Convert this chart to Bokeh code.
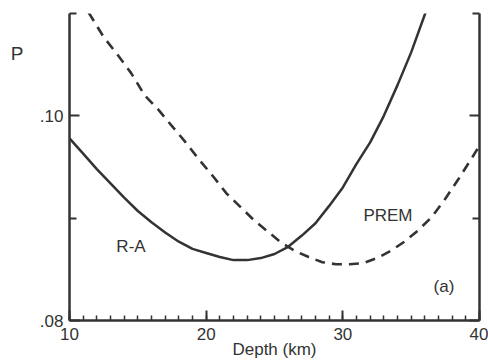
from bokeh.plotting import figure
from bokeh.models import LinearAxis, FixedTicker, Label, Range1d, CustomJSTickFormatter
from bokeh.embed import file_html
from bokeh.resources import INLINE

# ---- data ----
ra_depth = [10.0, 11.0, 12.0, 13.0, 14.0, 15.0, 16.0, 17.0, 18.0, 19.0, 20.0, 21.0,
            22.0, 23.0, 24.0, 25.0, 26.0, 27.0, 28.0, 29.0, 30.0, 31.0, 32.0, 33.0,
            34.0, 35.0, 36.0, 36.2]
ra_p = [0.0978, 0.0963, 0.0948, 0.0934, 0.0920, 0.0907, 0.0896, 0.0886, 0.0877, 0.0870,
        0.0866, 0.0862, 0.0859, 0.0859, 0.0861, 0.0865, 0.0872, 0.0883, 0.0895, 0.0912,
        0.0930, 0.0953, 0.0974, 0.1000, 0.1030, 0.1062, 0.1099, 0.1106]

prem_depth = [11.4, 12.5, 13.5, 14.5, 15.5, 16.5, 17.5, 18.5, 19.5, 20.5, 21.5, 22.5,
              23.5, 24.5, 25.5, 26.5, 27.5, 28.5, 29.5, 30.5, 31.5, 32.5, 33.5, 34.5,
              35.5, 36.5, 37.5, 38.5, 39.5, 40.0]
prem_p = [0.1101, 0.1077, 0.1060, 0.1042, 0.1020, 0.1006, 0.0990, 0.0974, 0.0957, 0.0941,
          0.0924, 0.0911, 0.0898, 0.0887, 0.0876, 0.0868, 0.0862, 0.0857, 0.0855, 0.0855,
          0.0856, 0.0861, 0.0868, 0.0877, 0.0888, 0.0901, 0.0919, 0.0939, 0.0960, 0.0971]

x_ticks = [10, 20, 30, 40]
x_tick_labels = ["10", "20", "30", "40"]
x_minor_ticks = list(range(10, 41))
y_ticks = [0.08, 0.10]
y_tick_labels = [".08", ".10"]
y_minor_ticks = [0.09, 0.11]

series_labels = ["R-A", "PREM", "(a)"]
y_title = "P"
y_title_at = 0.1061
x_title = "Depth (km)"

INK = "#333333"
FONT = "Liberation Sans"
FS = "17px"

p = figure(width=488, height=364, output_backend="svg", toolbar_location=None,
           x_range=Range1d(10, 40), y_range=Range1d(0.08, 0.11),
           min_border_left=69, min_border_right=9, min_border_top=13, min_border_bottom=44,
           background_fill_color="white", border_fill_color="white")
p.outline_line_color = None
p.grid.visible = False

# bottom axis
xa = p.xaxis[0]
xa.ticker = FixedTicker(ticks=x_ticks, minor_ticks=x_minor_ticks)
xa.major_label_overrides = dict(zip(x_ticks, x_tick_labels))
xa.axis_line_color = INK
xa.axis_line_width = 2.5
xa.major_tick_line_color = INK
xa.major_tick_line_width = 2
xa.minor_tick_line_color = INK
xa.minor_tick_line_width = 1.5
xa.major_tick_in = 10
xa.major_tick_out = 0
xa.minor_tick_in = 5
xa.minor_tick_out = 0
xa.major_label_text_font = FONT
xa.major_label_text_font_size = FS
xa.major_label_text_color = INK
xa.major_label_standoff = 7
xa.axis_label = x_title
xa.axis_label_text_font = FONT
xa.axis_label_text_font_size = FS
xa.axis_label_text_font_style = "normal"
xa.axis_label_text_color = INK
xa.axis_label_standoff = -3

# left axis
ya = p.yaxis[0]
ya.ticker = FixedTicker(ticks=y_ticks, minor_ticks=y_minor_ticks)
ya.major_label_overrides = dict(zip(y_ticks, y_tick_labels))

# right axis, no labels
yr = LinearAxis(ticker=FixedTicker(ticks=y_ticks, minor_ticks=y_minor_ticks),
                formatter=CustomJSTickFormatter(code="return ''"))
p.add_layout(yr, "right")

for ax in [ya, yr]:
    ax.axis_line_color = INK
    ax.axis_line_width = 2.5
    ax.major_tick_line_color = INK
    ax.major_tick_line_width = 2
    ax.minor_tick_line_color = INK
    ax.minor_tick_line_width = 2
    ax.major_tick_in = 10
    ax.major_tick_out = 0
    ax.minor_tick_in = 7
    ax.minor_tick_out = 0
    ax.major_label_text_font = FONT
    ax.major_label_text_font_size = FS
    ax.major_label_text_color = INK
    ax.major_label_standoff = 6
yr.major_label_standoff = 0

# the "P" title near the top of the left side: an extra, bare left axis
yt = LinearAxis(ticker=FixedTicker(ticks=[y_title_at], minor_ticks=[]),
                major_label_overrides={y_title_at: y_title})
yt.axis_line_color = None
yt.major_tick_line_color = None
yt.minor_tick_line_color = None
yt.major_tick_in = 0
yt.major_tick_out = 0
yt.major_label_standoff = 13
yt.major_label_text_font = FONT
yt.major_label_text_font_size = "19px"
yt.major_label_text_color = INK
p.add_layout(yt, "left")

# curves
p.line(ra_depth, ra_p, line_color=INK, line_width=2.5)
p.line(prem_depth, prem_p, line_color=INK, line_width=2.6, line_dash="10 7")

# in-plot labels
label_pos = [(14.5, 0.0872), (33.3, 0.0903), (37.4, 0.0833)]
for txt, (lx, ly) in zip(series_labels, label_pos):
    p.add_layout(Label(x=lx, y=ly, text=txt, text_font=FONT, text_font_size=FS,
                       text_color=INK, text_align="center", text_baseline="middle"))

open("out.html", "w").write(file_html(p, INLINE))
